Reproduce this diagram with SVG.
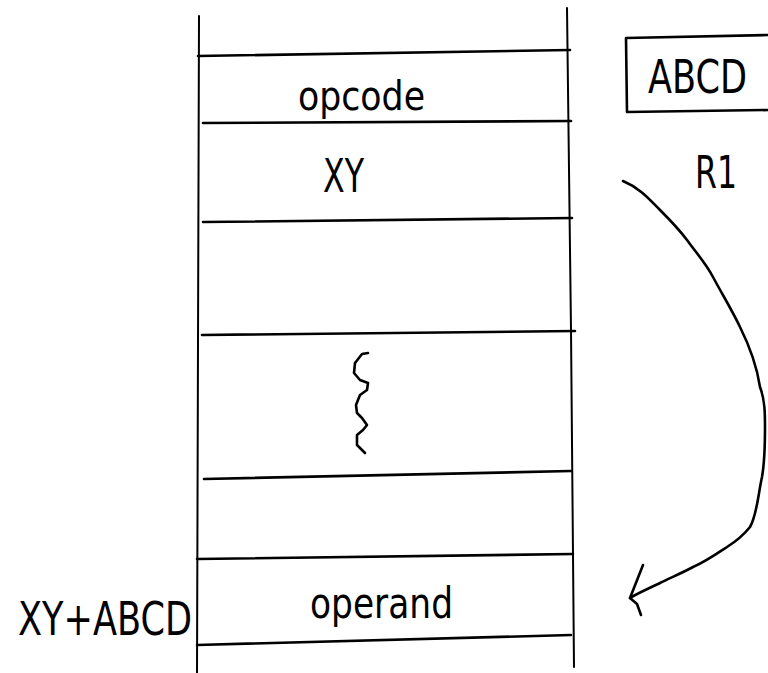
<svg xmlns="http://www.w3.org/2000/svg" width="768" height="673" viewBox="0 0 768 673">
<style>
.ln{fill:none;stroke:#000;stroke-width:2.6;stroke-linecap:round;stroke-linejoin:round}
.vl{fill:none;stroke:#000;stroke-width:2;stroke-linecap:round}
.t{font-family:"DejaVu Sans","Liberation Sans",sans-serif;fill:#000}
</style>
<rect width="768" height="673" fill="#fff"/>
<g id="memory">
<path class="vl" d="M199 16 L197 673"/>
<path class="vl" d="M567 8 L571 330 L574 667"/>
<path class="ln" d="M198 56 L570 50"/>
<path class="ln" d="M203 123 L571 121"/>
<path class="ln" d="M203 222 L572 218"/>
<path class="ln" d="M202 335 L575 331"/>
<path class="ln" d="M204 479 L571 471"/>
<path class="ln" d="M197 559 L573 554"/>
<path class="ln" d="M197 645 L571 635"/>
</g>
<g id="opcode"><text class="t" x="298" y="110" font-size="40" textLength="127" lengthAdjust="spacingAndGlyphs">opcode</text></g>
<g id="xy"><text class="t" x="323" y="192" font-size="46" textLength="41" lengthAdjust="spacingAndGlyphs">XY</text></g>
<g id="ellipsis">
<path class="ln" d="M368 353 L362 354 L355 363 L354 373 L360 380 L368 383 L367 390 L360 395 L356 405 L357 413 L362 418 L367 425 L363 430 L357 435 L357 445 L365 453"/>
</g>
<g id="operand"><text class="t" x="310" y="618" font-size="43" textLength="143" lengthAdjust="spacingAndGlyphs">operand</text></g>
<g id="address"><text class="t" x="18" y="635" font-size="47" textLength="174" lengthAdjust="spacingAndGlyphs">XY+ABCD</text></g>
<g id="register">
<path class="ln" d="M768 35 L626 38 L627 112 L768 110"/>
<text class="t" x="648" y="93" font-size="46" textLength="99" lengthAdjust="spacingAndGlyphs">ABCD</text>
<text class="t" x="695" y="188" font-size="45" textLength="42" lengthAdjust="spacingAndGlyphs">R1</text>
</g>
<g id="connectors">
<path class="ln" d="M623 181 C640 188 650 200 660 210 C670 220 678 228 687 240 C697 254 705 262 713 277 C722 294 732 310 740 327 C750 347 757 367 760 387 C765 400 765 414 765 427 C765 444 765 460 762 477 C758 495 757 515 750 527 C742 537 735 542 727 547 C715 555 705 562 693 567 C682 573 670 578 660 583 C650 588 640 592 630 598"/>
<path class="ln" d="M643 565 L630 598 L637 604 L641 615"/>
</g>
</svg>
